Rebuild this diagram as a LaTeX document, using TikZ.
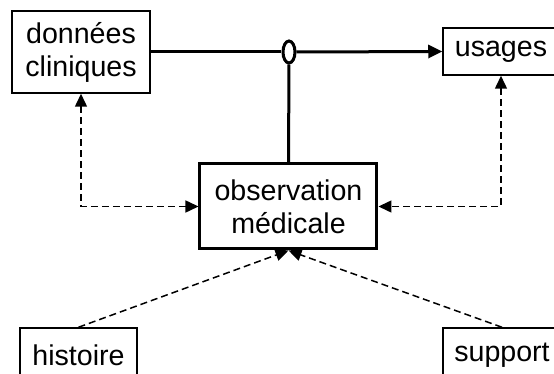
\documentclass[tikz,border=0pt]{standalone}
\usepackage{fontspec}
\setmainfont{Liberation Sans}
\usetikzlibrary{arrows.meta,shapes.geometric}

\begin{document}
\begin{tikzpicture}[x=0.5pt,y=-0.5pt]
        \tikzset{box/.style={draw,line width=0.75pt,inner sep=0pt,align=center,
                font=\fontsize{14.3pt}{16.5pt}\selectfont},
            mainbox/.style={box,line width=1.5pt},
            joint/.style={draw,ellipse,line width=1.5pt,inner sep=0pt,
                minimum width=6pt,minimum height=11pt},
            mainlink/.style={line width=1.5pt},
            dashlink/.style={line width=0.75pt,dash pattern=on 3.5pt off 2pt},
            smalltip/.tip={Triangle[length=6.5pt,width=6pt]}}
        \useasboundingbox (0,0) rectangle (554,374);
        % boxes
        \node[box,minimum width=69pt,minimum height=41pt] (donnees) at (81,52) {données\\cliniques};
        \node[box,minimum width=58pt,minimum height=23.5pt] (usages) at (501,51.5) {usages};
        \node[mainbox,minimum width=88.5pt,minimum height=42.5pt] (obs) at (288.5,206.5) {observation\\médicale};
        \node[box,minimum width=58.5pt,minimum height=27pt] (histoire) at (78.5,355) {histoire};
        \node[box,minimum width=59pt,minimum height=27pt] (support) at (502,355) {support};
        \node[joint] (jonction) at (289,52) {};
        % links
        \draw[mainlink] (donnees.east) -- (jonction.west);
        \draw[mainlink,-{Triangle[length=7pt,width=6.5pt]}] (jonction.east) -- (usages.west);
        \draw[mainlink] (jonction.south) -- (obs.north);
        \draw[dashlink,smalltip-smalltip] (donnees.south) |- (obs.west);
        \draw[dashlink,smalltip-smalltip] (usages.south) |- (obs.east);
        \draw[dashlink,-smalltip] (histoire.north) -- (obs.south);
        \draw[dashlink,-smalltip] (support.north) -- (obs.south);
    \end{tikzpicture}
\end{document}
